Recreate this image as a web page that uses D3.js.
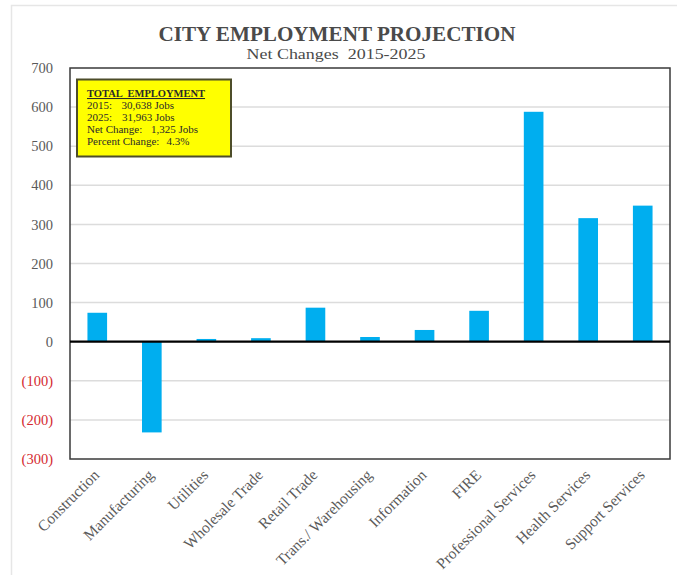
<!DOCTYPE html>
<html>
<head>
<meta charset="utf-8">
<script src="https://cdn.jsdelivr.net/npm/d3@7"></script>
<style>
  html, body { margin: 0; padding: 0; background: #fff; }
  svg { display: block; }
</style>
</head>
<body>
<svg id="chart" width="677" height="575"></svg>
<script>
// Net change in jobs by industry, 2015-2025
const categories = [
  "Construction", "Manufacturing", "Utilities", "Wholesale Trade", "Retail Trade",
  "Trans./ Warehousing", "Information", "FIRE", "Professional Services",
  "Health Services", "Support Services"
];
const netChange = [74, -232, 7, 9, 87, 12, 30, 79, 588, 316, 348];
const yTicks = [-300, -200, -100, 0, 100, 200, 300, 400, 500, 600, 700];
const summaryTitle = "TOTAL  EMPLOYMENT";
const summaryLines = [
  ["2015:", "30,638 Jobs"],
  ["2025:", "31,963 Jobs"],
  ["Net Change:", "1,325 Jobs"],
  ["Percent Change:", "4.3%"]
];

const serif = "'Liberation Serif', 'Times New Roman', serif";
const svg = d3.select("#chart");

const plot = { left: 70, right: 670, top: 68, bottom: 459 };

// outer figure frame
svg.append("rect")
  .attr("x", 11.5).attr("y", 5.5)
  .attr("width", 700).attr("height", 600)
  .attr("fill", "none").attr("stroke", "#e6e6e6").attr("stroke-width", 1.5);

// titles
svg.append("text")
  .attr("x", 337).attr("y", 40.5)
  .attr("text-anchor", "middle")
  .attr("font-family", serif).attr("font-weight", "bold").attr("font-size", 20.5)
  .attr("fill", "#4a4a4a")
  .attr("textLength", 357).attr("lengthAdjust", "spacingAndGlyphs")
  .text("CITY EMPLOYMENT PROJECTION");
svg.append("text")
  .attr("x", 336).attr("y", 59)
  .attr("text-anchor", "middle")
  .attr("font-family", serif).attr("font-size", 15.5)
  .attr("fill", "#4a4a4a")
  .attr("xml:space", "preserve")
  .attr("textLength", 179).attr("lengthAdjust", "spacingAndGlyphs")
  .text("Net Changes  2015-2025");

const x = d3.scaleBand()
  .domain(categories)
  .range([plot.left, plot.right])
  .paddingInner(0.64).paddingOuter(0.32);

const y = d3.scaleLinear()
  .domain([-300, 700])
  .range([plot.bottom, plot.top]);

// horizontal gridlines
svg.append("g")
  .selectAll("line")
  .data(yTicks.filter(t => t !== 0 && t !== 700 && t !== -300))
  .join("line")
  .attr("x1", plot.left).attr("x2", plot.right)
  .attr("y1", d => y(d)).attr("y2", d => y(d))
  .attr("stroke", "#dcdcdc").attr("stroke-width", 1.5);

// y axis labels (negatives in parentheses, red)
const yAxis = d3.axisLeft(y)
  .tickValues(yTicks)
  .tickSize(0)
  .tickPadding(0)
  .tickFormat(d => d < 0 ? `(${-d})` : `${d}`);
const yg = svg.append("g")
  .attr("transform", `translate(${plot.left - 17},0)`)
  .call(yAxis);
yg.select(".domain").remove();
yg.selectAll("text")
  .attr("font-family", serif).attr("font-size", 14.5)
  .attr("fill", d => d < 0 ? "#d42a30" : "#5a5a5a");

// bars
svg.append("g")
  .selectAll("rect")
  .data(categories.map((c, i) => ({ c, v: netChange[i] })))
  .join("rect")
  .attr("x", d => x(d.c))
  .attr("width", x.bandwidth())
  .attr("y", d => y(Math.max(0, d.v)))
  .attr("height", d => Math.abs(y(d.v) - y(0)))
  .attr("fill", "#00aeef");

// plot border
svg.append("rect")
  .attr("x", plot.left).attr("y", plot.top)
  .attr("width", plot.right - plot.left).attr("height", plot.bottom - plot.top)
  .attr("fill", "none").attr("stroke", "#3a3a3a").attr("stroke-width", 1.5);

// zero line
svg.append("line")
  .attr("x1", plot.left).attr("x2", plot.right)
  .attr("y1", y(0)).attr("y2", y(0))
  .attr("stroke", "#000").attr("stroke-width", 2.2);

// category labels, rotated
const xAxis = d3.axisBottom(x).tickSize(0).tickPadding(0);
const xg = svg.append("g")
  .attr("transform", `translate(0,${plot.bottom})`)
  .call(xAxis);
xg.select(".domain").remove();
xg.selectAll("text")
  .attr("font-family", serif).attr("font-size", 15.5)
  .attr("fill", "#5a5a5a")
  .attr("text-anchor", "end")
  .attr("dy", null)
  .attr("transform", "translate(3,17) rotate(-45)");

// summary box
const box = svg.append("g");
box.append("rect")
  .attr("x", 77).attr("y", 79.5)
  .attr("width", 154).attr("height", 77)
  .attr("fill", "#ffff00").attr("stroke", "#4d4d2a").attr("stroke-width", 2);
box.append("text")
  .attr("x", 87).attr("y", 97)
  .attr("font-family", serif).attr("font-weight", "bold").attr("font-size", 10.5)
  .attr("text-decoration", "underline")
  .attr("fill", "#2a2a2a")
  .attr("xml:space", "preserve")
  .text(summaryTitle);
const valueX = [121.5, 122, 151, 166.5];
summaryLines.forEach((row, i) => {
  const ty = 109 + i * 12;
  box.append("text")
    .attr("x", 87).attr("y", ty)
    .attr("font-family", serif).attr("font-size", 11).attr("fill", "#2a2a2a")
    .text(row[0]);
  box.append("text")
    .attr("x", valueX[i]).attr("y", ty)
    .attr("font-family", serif).attr("font-size", 11).attr("fill", "#2a2a2a")
    .text(row[1]);
});
</script>
</body>
</html>
